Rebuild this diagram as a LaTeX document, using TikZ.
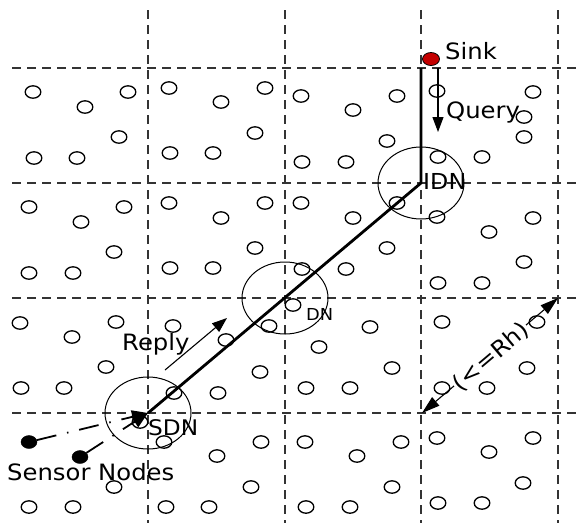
\documentclass[tikz,border=0pt]{standalone}
\usepackage{fontspec}
\setmainfont{DejaVu Sans}
\newfontfamily\labelfont[FakeStretch=1.08]{DejaVu Sans}
\usetikzlibrary{arrows.meta,shapes.geometric}
\definecolor{sinkred}{RGB}{196,0,0}
\begin{document}
\begin{tikzpicture}[x=1pt,y=-1pt,
  cellline/.style={draw=black!80,line width=1.2pt,dash pattern=on 9pt off 6pt},
  mote/.style={draw=black,line width=1.3pt},
  zone/.style={ellipse,draw,line width=1pt,minimum width=86pt,minimum height=72pt,inner sep=0pt},
  route/.style={line width=2.8pt},
  flow/.style={line width=1.1pt,-{Triangle[length=15pt,width=11pt]}},
  probe/.style={line width=1.8pt,dash pattern=on 20pt off 11pt on 1.5pt off 11pt,-{Triangle[length=16pt,width=13pt]}},
  source/.style={ellipse,fill=black,draw=black,minimum width=16pt,minimum height=13pt,inner sep=0pt},
  lbl/.style={font=\labelfont\fontsize{22.5}{27}\selectfont,inner sep=0pt,anchor=base west}]
\useasboundingbox (0,0) rectangle (580,523);
\fill[white] (0,0) rectangle (580,523);

% cell boundaries
\foreach \yy in {68,183,298,413} \draw[cellline] (12,\yy) -- (580,\yy);
\foreach \xx in {148,285,421,558} \draw[cellline] (\xx,10) -- (\xx,523);

% deployed sensors
\foreach \px/\py in {
  33/92,85/107,128/92,119/137,34/158,77/158,
  169/88,221/102,265/88,255/133,170/153,213/153,
  301/96,353/110,397/96,387/141,302/162,346/162,
  437/91,533/92,524/117,524/137,438/157,482/157,
  29/207,81/222,124/207,114/252,29/273,73/273,
  169/203,221/218,265/203,255/248,170/268,213/268,
  301/203,353/218,397/203,387/248,302/269,346/269,
  437/217,489/232,533/218,524/262,438/283,482/283,
  20/323,72/337,116/322,106/367,21/388,64/388,
  173/326,226/340,269/326,260/372,174/393,218/393,
  293/305,370/327,319/347,392/368,306/388,350/388,
  442/322,537/322,527/368,442/388,487/388,
  140/422,114/487,29/507,73/507,
  164/442,217/456,261/442,251/487,166/507,209/507,
  305/442,357/456,401/442,392/487,306/507,350/507,
  437/438,489/452,533/438,523/483,438/503,482/503}
  \draw[mote] (\px,\py) ellipse [x radius=7.8pt,y radius=6.2pt];

% forwarding zones
\node[zone] (idn) at (421,183) {};
\node[zone] (dn) at (285,298) {};
\node[zone] (sdn) at (148,413) {};

% sink and query path
\node[ellipse,draw=black,fill=sinkred,line width=0.8pt,minimum width=17pt,minimum height=13pt,inner sep=0pt] (sink) at (431,59) {};
\coordinate (feed) at (421,68);
\draw[route] (feed) -- (idn.center) -- (sdn.center);

\coordinate (qa) at (438,68);
\coordinate (qb) at (438,132);
\draw[flow] (qa) -- (qb);

\coordinate (ra) at (165,370);
\coordinate (rb) at (227,318);
\draw[flow] (ra) -- (rb);

% source sensors reporting to the SDN
\node[source] (s1) at (29,442) {};
\node[source] (s2) at (80,457) {};
\draw[probe] (s1) -- (sdn.center);
\draw[probe] (s2) -- (sdn.center);

% cell diagonal
\coordinate (ha) at (422,413);
\coordinate (hb) at (558,298);
\draw[line width=1.1pt,{Triangle[length=18pt,width=11pt]}-{Triangle[length=18pt,width=11pt]}]
  (ha) -- node[sloped,fill=white,inner sep=1pt,yshift=-2pt,font=\labelfont\fontsize{22.5}{27}\selectfont] {(<=Rh)} (hb);

% labels
\node[lbl] (tsink) at (445,59) {Sink};
\node[lbl] (tquery) at (446,118) {Query};
\node[lbl,font=\labelfont\fontsize{22}{26}\selectfont] (tidn) at (423,189) {IDN};
\node[lbl,font=\labelfont\fontsize{16.5}{20}\selectfont] (tdn) at (306,320) {DN};
\node[lbl,font=\labelfont\fontsize{21.5}{26}\selectfont] (tsdn) at (148,435) {SDN};
\node[lbl] (tsens) at (7,480) {Sensor Nodes};
\node[lbl] (treply) at (122,350) {Reply};
\end{tikzpicture}
\end{document}
